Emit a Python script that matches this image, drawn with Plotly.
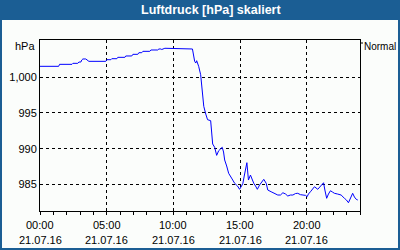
import plotly.graph_objects as go
import pandas as pd

day = "2016-07-21"
times = ["00:00","01:24","01:28","02:24","02:28","02:50","02:55","03:04","03:08","03:13",
         "03:26","03:31","03:40","04:56","05:01","05:19","05:23","05:46","05:50","06:22",
         "06:26","06:53","06:58","07:20","07:25","07:38","07:43","08:14","08:19","08:50",
         "08:55","09:04","09:08","09:22","10:29","10:33","11:26","11:36","11:41","11:45",
         "11:50","11:54","12:03","12:08","12:12","12:17","12:26","12:34","12:48","12:52",
         "12:57","13:06","13:15","13:24","13:40","13:46","13:51","14:00","14:09","14:22",
         "14:36","14:49","14:58","15:07","15:13","15:19","15:24","15:31","15:34","15:38",
         "15:47","15:54","16:02","16:10","16:18","16:28","16:37","16:47","16:58","17:05",
         "17:20","17:35","17:50","18:02","18:13","18:25","18:35","18:47","18:58","19:10",
         "19:20","19:32","19:43","19:55","20:02","20:08","20:17","20:26","20:35","20:50",
         "20:58","21:05","21:16","21:22","21:30","21:38","21:47","21:56","22:05","22:19",
         "22:35","22:50","22:59","23:08","23:17","23:27","23:35","23:43","23:50"]
pressure = [1001.54,1001.54,1001.82,1001.82,1001.96,1001.96,1002.14,1002.14,1002.43,1002.57,
            1002.57,1002.43,1002.24,1002.24,1002.47,1002.47,1002.61,1002.61,1002.80,1002.80,
            1002.99,1002.99,1003.22,1003.22,1003.45,1003.45,1003.64,1003.64,1003.83,1003.83,
            1003.97,1003.97,1003.90,1004.07,1004.07,1003.97,1003.97,1002.24,1002.00,1002.33,
            1002.00,1001.54,1000.36,998.96,997.10,995.93,994.85,994.06,993.92,991.95,
            990.65,990.19,989.06,989.71,990.19,989.53,988.41,987.57,986.54,985.88,
            985.14,984.76,984.30,984.76,985.14,986.16,986.77,988.03,987.00,985.60,
            986.30,985.74,985.14,984.76,984.30,984.90,985.32,985.70,985.14,984.20,
            983.96,983.74,983.50,983.50,983.82,983.64,983.36,983.50,983.50,983.71,
            983.74,983.55,983.50,983.45,983.26,983.64,983.96,984.34,984.66,984.30,
            984.55,984.76,985.22,984.20,983.04,983.64,984.10,983.92,983.74,983.64,
            983.50,983.04,982.80,982.42,983.08,983.74,983.22,982.90,982.80]
tick_hours = ["00:00","05:00","10:00","15:00","20:00"]
tick_date = "21.07.16"
y_ticks = [985, 990, 995, 1000]
y_ticktext = ["985", "990", "995", "1,000"]
title = "Luftdruck [hPa] skaliert"
unit = "hPa"
right_label = "Normal"

x = pd.to_datetime([f"{day} {t}" for t in times])
tick_x = [f"{day} {h}" for h in tick_hours]

W, H = 400, 250
L, R, T, B = 40, 360, 40, 211
def px(v): return (v - L) / (R - L)
def py(v): return (B - v) / (B - T)

BLUE = "#1b5e94"
INNER = "#fbfdfb"
FONT = "Liberation Sans"

fig = go.Figure()
fig.add_trace(go.Scatter(x=x, y=pressure, mode="lines",
                         line=dict(color="#0000ff", width=1), hoverinfo="skip"))

annotations = [
    dict(text=f"<b>{title}</b>", xref="paper", yref="paper", x=px(211), y=py(10),
         xanchor="center", yanchor="middle", showarrow=False,
         font=dict(family=FONT, size=12.5, color="white")),
    dict(text=unit, xref="paper", yref="paper", x=px(37), y=py(46),
         xanchor="right", yanchor="middle", showarrow=False,
         font=dict(family=FONT, size=11, color="black")),
    dict(text=right_label, xref="paper", yref="paper", x=px(362), y=py(46),
         xanchor="left", yanchor="middle", showarrow=False,
         font=dict(family=FONT, size=10, color="black")),
]
for tx in tick_hours:
    annotations.append(dict(text=tx, xref="x", yref="paper", x=f"{day} {tx}", y=py(225),
                            xanchor="center", yanchor="middle", showarrow=False,
                            font=dict(family=FONT, size=11, color="black")))
    annotations.append(dict(text=tick_date, xref="x", yref="paper", x=f"{day} {tx}", y=py(239.5),
                            xanchor="center", yanchor="middle", showarrow=False,
                            font=dict(family=FONT, size=11, color="black")))

fig.update_layout(
    width=W, height=H,
    margin=dict(l=L, r=W - R, t=T, b=H - B, pad=0),
    paper_bgcolor=BLUE, plot_bgcolor=INNER,
    showlegend=False,
    font=dict(family=FONT, size=11, color="black"),
    xaxis=dict(type="date", automargin=False,
               range=[f"{day} 00:00", "2016-07-22 00:00"],
               tickvals=tick_x, showticklabels=False,
               ticks="outside", ticklen=3, tickcolor="black", tickwidth=1,
               minor=dict(dtick=3600000, ticks="outside", ticklen=3, tickcolor="black", showgrid=False),
               showgrid=True, gridcolor="black", gridwidth=1, griddash="3px,3px",
               showline=True, linecolor="black", linewidth=1, mirror=True,
               zeroline=False),
    yaxis=dict(range=[981.26, 1005.23], automargin=False,
               tickvals=y_ticks, ticktext=y_ticktext,
               ticks="", showgrid=True, gridcolor="black", gridwidth=1, griddash="3px,3px",
               showline=True, linecolor="black", linewidth=1, mirror=True,
               zeroline=False, tickfont=dict(family=FONT, size=11, color="black")),
    shapes=[
        dict(type="rect", xref="paper", yref="paper",
             x0=px(2), x1=px(398), y0=py(248), y1=py(20),
             fillcolor=INNER, line=dict(width=0), layer="below"),
        dict(type="line", xref="paper", yref="paper",
             x0=px(360), x1=px(363), y0=py(43), y1=py(43),
             line=dict(color="black", width=1)),
    ],
    annotations=annotations,
)

fig.write_html("out.html")
